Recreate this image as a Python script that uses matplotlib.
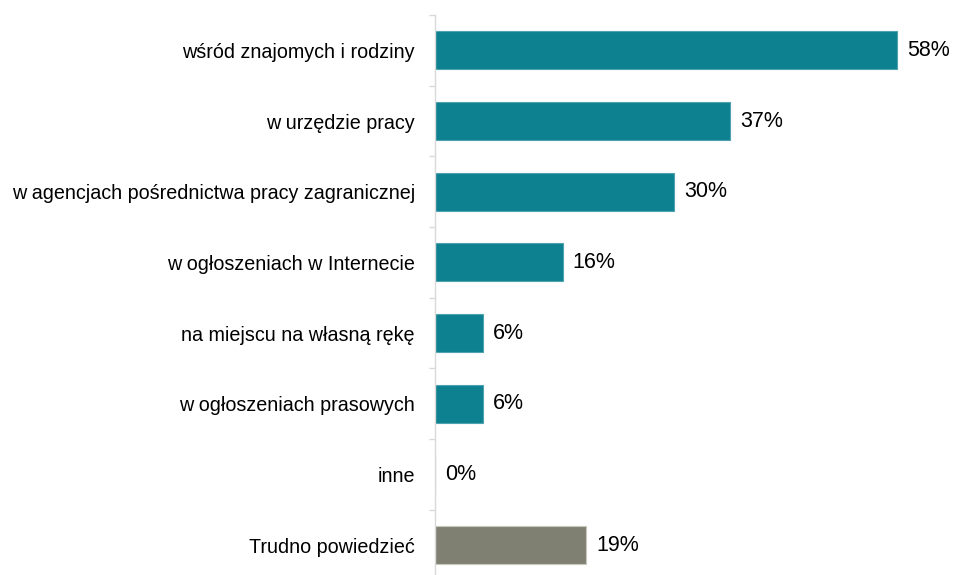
import matplotlib
matplotlib.use("Agg")
import matplotlib.pyplot as plt

categories = [
    "wśród znajomych i rodziny",
    "w urzędzie pracy",
    "w agencjach pośrednictwa pracy zagranicznej",
    "w ogłoszeniach w Internecie",
    "na miejscu na własną rękę",
    "w ogłoszeniach prasowych",
    "inne",
    "Trudno powiedzieć",
]
values = [58, 37, 30, 16, 6, 6, 0, 19]
labels = ["58%", "37%", "30%", "16%", "6%", "6%", "0%", "19%"]
colors = ["#0E8191"] * 7 + ["#7F7F72"]
edges = ["#4FA3AE"] * 7 + ["#C8C8BC"]

plt.rcParams['font.family'] = ['Liberation Sans', 'DejaVu Sans']

fig = plt.figure(figsize=(9.54, 5.75), dpi=100)
ax = fig.add_axes([435/954, -5.5/575, 1 - 435/954, (575 - 15 + 5.5)/575])

n = len(categories)
ypos = list(range(n))
ax.barh(ypos, values, height=0.54, color=colors, edgecolor=edges, linewidth=0.8)
ax.set_ylim(n - 0.5, -0.5)
ax.set_xlim(0, 519/7.97)

for y, v, lab in zip(ypos, values, labels):
    ax.text(v + 1.25, y, lab, va='center', ha='left', fontsize=15.5, color='#000000')

ax.set_yticks(ypos)
ax.set_yticklabels(categories, fontsize=14.2)
ax.set_yticks([i - 0.5 for i in range(n + 1)], minor=True)
ax.tick_params(axis='y', which='major', length=0, pad=14.4)
ax.tick_params(axis='y', which='minor', length=4.5, color='#D9D9D9', width=1)
ax.set_xticks([])
for s in ['top', 'right', 'bottom']:
    ax.spines[s].set_visible(False)
ax.spines['left'].set_color('#D9D9D9')
ax.spines['left'].set_linewidth(1)

fig.savefig("out.png", dpi=100)
